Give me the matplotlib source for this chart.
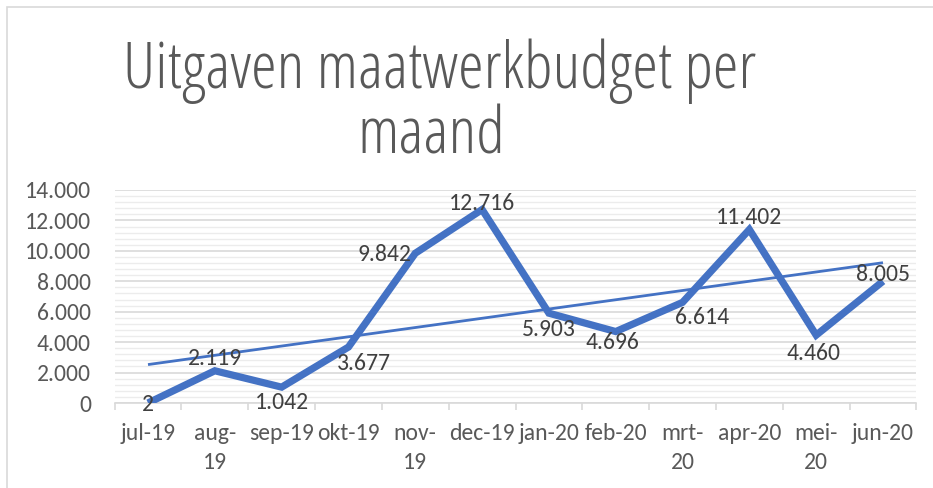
import matplotlib
matplotlib.use("Agg")
import matplotlib.pyplot as plt
from matplotlib.patches import Rectangle
from matplotlib.ticker import MultipleLocator, FuncFormatter
import numpy as np

# ---- data ----
categories = ['jul-19', 'aug-\n19', 'sep-19', 'okt-19', 'nov-\n19', 'dec-19',
              'jan-20', 'feb-20', 'mrt-\n20', 'apr-20', 'mei-\n20', 'jun-20']
values = [2, 2119, 1042, 3677, 9842, 12716, 5903, 4696, 6614, 11402, 4460, 8005]
title_lines = ['Uitgaven maatwerkbudget per', 'maand']

# label offsets in points (style only)
label_offsets = [(0, -1), (0, 9), (0, -11), (11, -12), (-22, -1), (0, 4),
                 (0, -12), (-2, -8), (14, -11), (0, 9), (-2, -13), (0, 5)]

plt.rcParams['font.family'] = ['Carlito', 'DejaVu Sans']

W, H = 933, 488
fig = plt.figure(figsize=(W / 100, H / 100), dpi=100)
fig.patch.set_facecolor('white')

# chart area border (clipped on right/bottom)
fig.add_artist(Rectangle((7 / W, -0.2), 1.2, 1.2 - 7 / H, transform=fig.transFigure,
                         fill=False, edgecolor='#d9d9d9', linewidth=1.2))

ax = fig.add_axes([114.6 / W, 85 / H, 801.8 / W, 213 / H])
x = np.arange(len(values))
blue = '#4472C4'

# trendline (linear fit)
coef = np.polyfit(x, values, 1)
ax.plot(x, np.polyval(coef, x), color=blue, linewidth=2.0, solid_capstyle='butt', zorder=3)
ax.plot(x, values, color=blue, linewidth=5.2, solid_joinstyle='miter',
        solid_capstyle='butt', zorder=4)

for xi, v, (dx, dy) in zip(x, values, label_offsets):
    ax.annotate(f"{v:,}".replace(',', '.'), (xi, v), xytext=(dx, dy), textcoords='offset points',
                ha='center', va='center', fontsize=17, color='#404040', zorder=5)

ax.set_xlim(-0.5, len(values) - 0.5)
ax.set_ylim(0, 14000)
ax.yaxis.set_major_locator(MultipleLocator(2000))
ax.yaxis.set_minor_locator(MultipleLocator(400))
ax.yaxis.set_major_formatter(FuncFormatter(lambda v, p: f"{int(v):,}".replace(',', '.')))
ax.set_xticks(x)
ax.set_xticklabels(categories, linespacing=1.45)
ax.set_xticks(np.arange(-0.5, len(values)), minor=True)

ax.grid(which='minor', axis='y', color='#ececec', linewidth=1.0, zorder=0)
ax.grid(which='major', axis='y', color='#d9d9d9', linewidth=1.2, zorder=1)
ax.set_axisbelow(True)

for s in ['top', 'right', 'left']:
    ax.spines[s].set_visible(False)
ax.spines['bottom'].set_color('#d9d9d9')
ax.spines['bottom'].set_linewidth(1.2)

ax.tick_params(axis='y', which='both', length=0, labelsize=17, labelcolor='#595959', pad=17)
ax.tick_params(axis='x', which='major', length=0, labelsize=17, labelcolor='#595959', pad=14.5)
ax.tick_params(axis='x', which='minor', length=5, width=1.2, color='#d9d9d9')
ax.set_facecolor('none')

# title
tfont = dict(family=['Open Sans', 'Carlito', 'DejaVu Sans'], weight=300,
             stretch='condensed', fontsize=47, color='#595959')
fig.text(440 / W, 1 - 88 / H, title_lines[0], ha='center', va='baseline', **tfont)
fig.text(431 / W, 1 - 153 / H, title_lines[1], ha='center', va='baseline', **tfont)

fig.savefig('out.png', dpi=100, facecolor='white')
